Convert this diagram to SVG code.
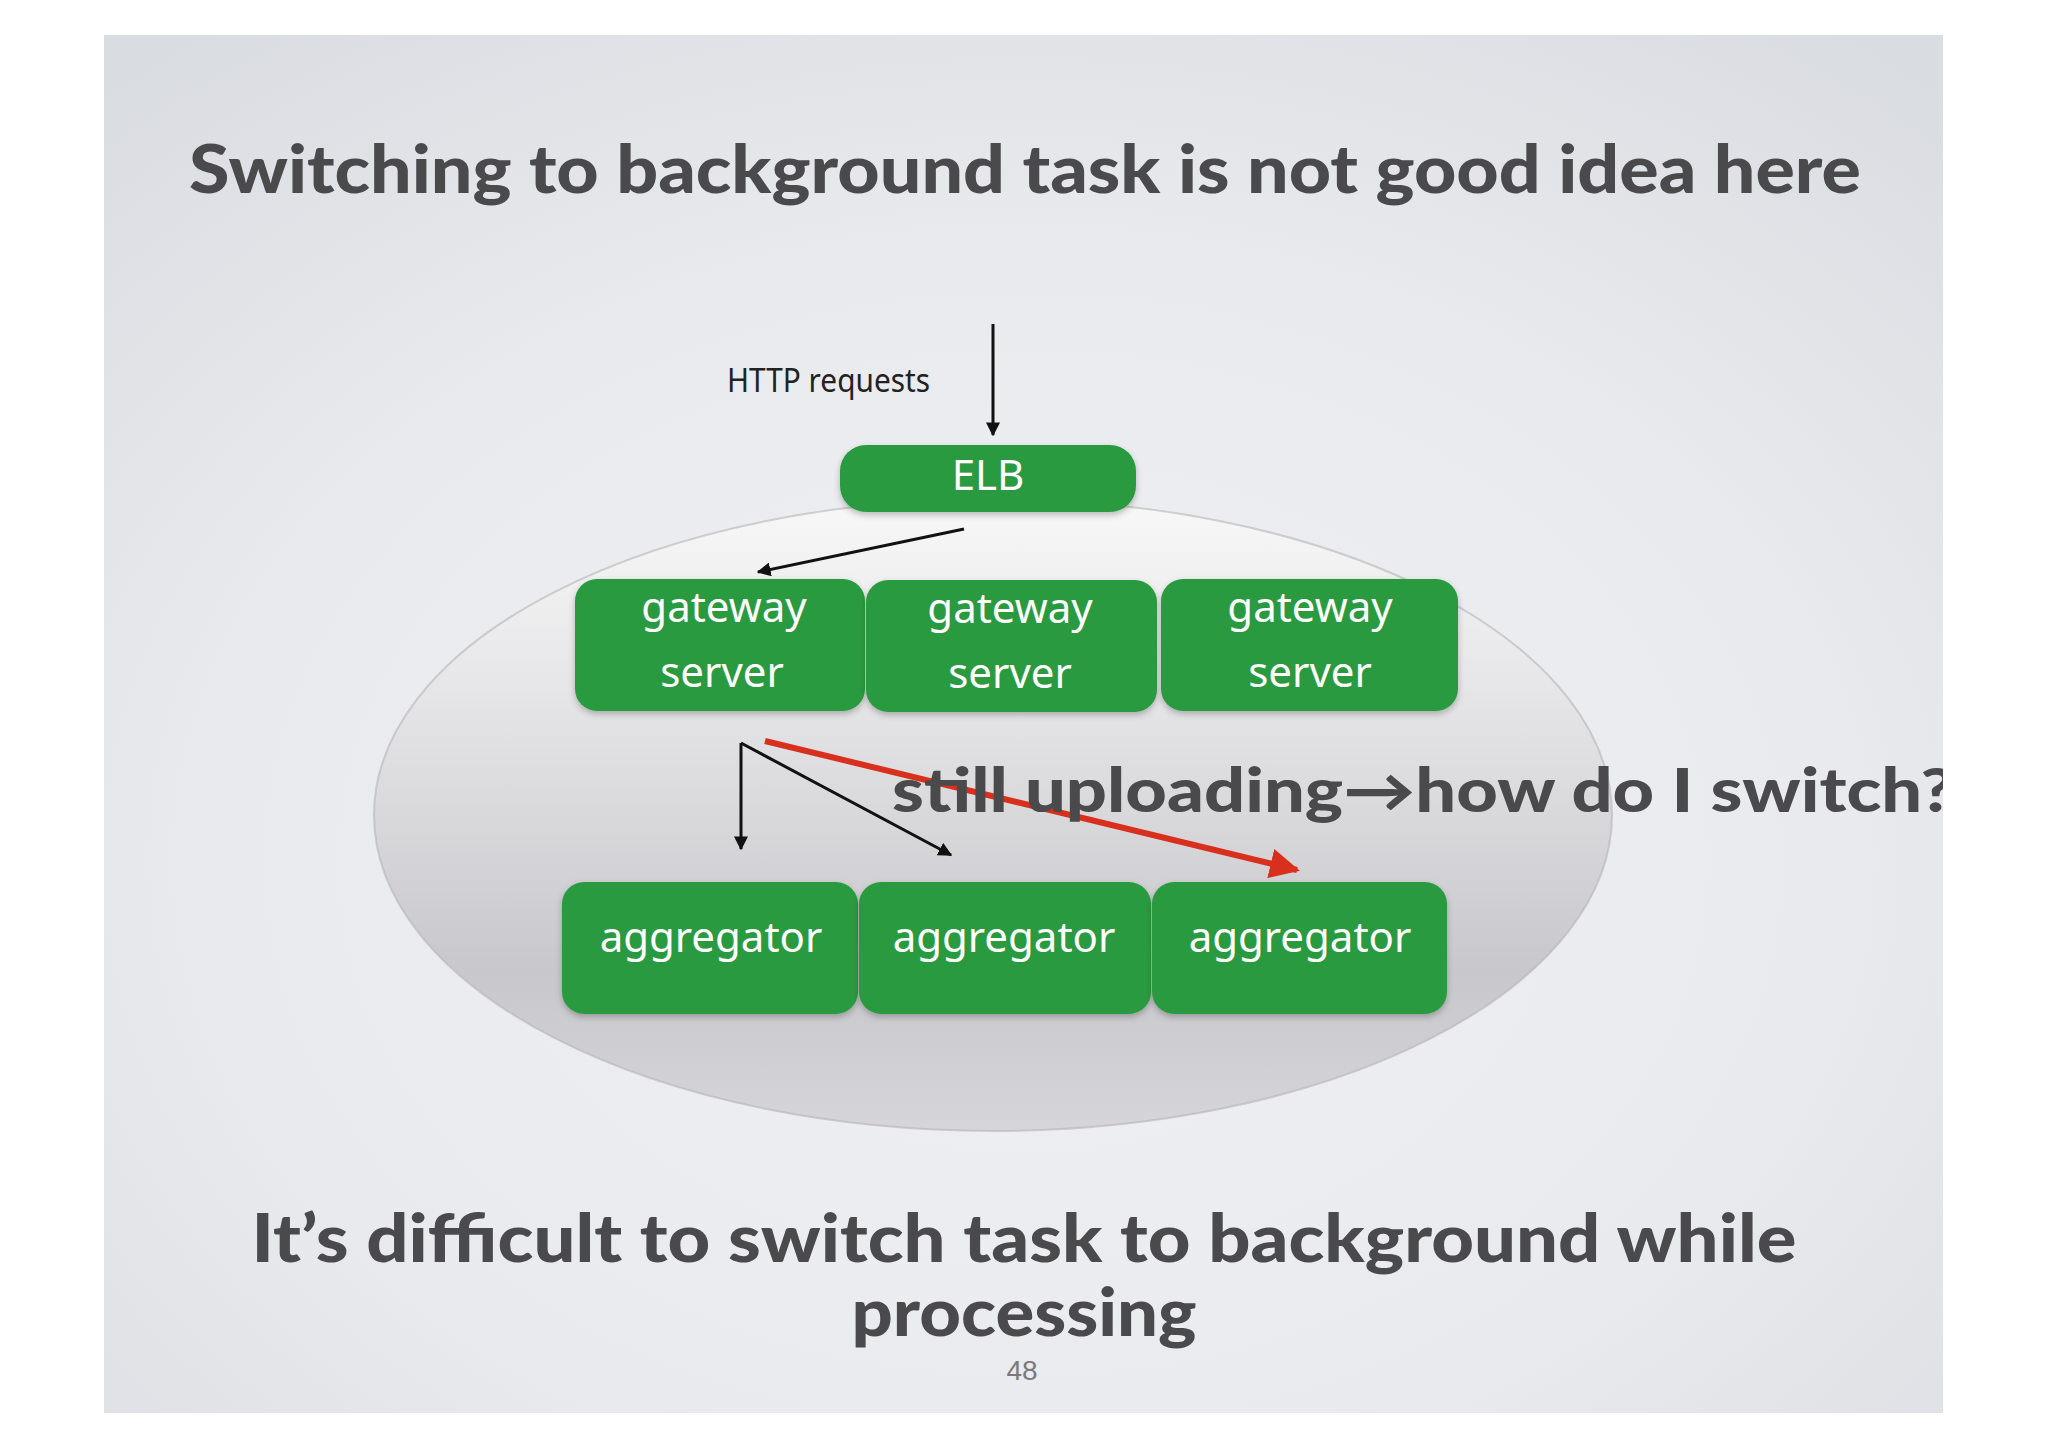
<svg xmlns="http://www.w3.org/2000/svg" width="2048" height="1448" viewBox="0 0 2048 1448">
<defs>
<radialGradient id="bg" cx="0.5" cy="0.6" r="0.75">
<stop offset="0" stop-color="#f0f1f3"/>
<stop offset="0.6" stop-color="#e8eaed"/>
<stop offset="1" stop-color="#d9dce1"/>
</radialGradient>
<linearGradient id="ell" x1="0" y1="0" x2="0" y2="1">
<stop offset="0" stop-color="#f8f8f8"/>
<stop offset="0.3" stop-color="#e6e6e8"/>
<stop offset="0.75" stop-color="#c8c8cc"/>
<stop offset="1" stop-color="#d6d6da"/>
</linearGradient>
<clipPath id="slide"><rect x="104" y="35" width="1839" height="1378"/></clipPath>
<filter id="sh" x="-10%" y="-10%" width="120%" height="130%">
<feDropShadow dx="0" dy="3" stdDeviation="3" flood-color="#000" flood-opacity="0.25"/>
</filter>
<marker id="ahk" viewBox="0 0 10 10" refX="9" refY="5" markerWidth="14" markerHeight="14" orient="auto" markerUnits="userSpaceOnUse">
<path d="M0,0 L10,5 L0,10 z" fill="#111"/>
</marker>
<marker id="ahr" viewBox="0 0 10 10" refX="9" refY="5" markerWidth="30" markerHeight="30" orient="auto" markerUnits="userSpaceOnUse">
<path d="M0,0 L10,5 L0,10 z" fill="#d8301c"/>
</marker>
</defs>
<style>
.box{fill:#2c9a40;filter:url(#sh)}
.lbl{font-family:"Noto Sans","Open Sans",sans-serif;fill:#ffffff;text-anchor:middle;font-size:42px}
.head{font-family:Lato,"Liberation Sans",sans-serif;font-weight:900;fill:#4a4a4c;text-anchor:middle}
.conn{stroke:#111;stroke-width:3;fill:none}
</style>
<rect width="2048" height="1448" fill="#ffffff"/>
<rect x="104" y="35" width="1839" height="1378" fill="url(#bg)"/>
<g clip-path="url(#slide)">
<ellipse id="cluster" cx="993" cy="815" rx="619" ry="316" fill="url(#ell)" stroke="#b4b4b8" stroke-opacity="0.6" stroke-width="2"/>

<text class="head" x="1025" y="193" font-size="66" textLength="1672" lengthAdjust="spacingAndGlyphs">Switching to background task is not good idea here</text>

<text x="727" y="392" font-family="'Noto Sans','Open Sans',sans-serif" font-size="32" fill="#222" textLength="203" lengthAdjust="spacingAndGlyphs">HTTP requests</text>

<g id="elb">
<rect class="box" x="840" y="445" width="296" height="67" rx="26"/>
<text class="lbl" x="988" y="490" font-size="44">ELB</text>
</g>

<g id="gateway1">
<rect class="box" x="575" y="579" width="290" height="132" rx="22"/>
<text class="lbl" x="724" y="622">gateway</text>
<text class="lbl" x="722" y="687">server</text>
</g>
<g id="gateway2">
<rect class="box" x="866" y="580" width="291" height="132" rx="22"/>
<text class="lbl" x="1010" y="623">gateway</text>
<text class="lbl" x="1010" y="688">server</text>
</g>
<g id="gateway3">
<rect class="box" x="1161" y="579" width="297" height="132" rx="22"/>
<text class="lbl" x="1310" y="622">gateway</text>
<text class="lbl" x="1310" y="687">server</text>
</g>

<g id="aggregator1">
<rect class="box" x="562" y="882" width="296" height="132" rx="22"/>
<text class="lbl" x="711" y="952">aggregator</text>
</g>
<g id="aggregator2">
<rect class="box" x="859" y="882" width="292" height="132" rx="22"/>
<text class="lbl" x="1004" y="952">aggregator</text>
</g>
<g id="aggregator3">
<rect class="box" x="1152" y="882" width="295" height="132" rx="22"/>
<text class="lbl" x="1300" y="952">aggregator</text>
</g>

<g id="connectors">
<line class="conn" x1="993" y1="324" x2="993" y2="435" marker-end="url(#ahk)"/>
<line class="conn" x1="964" y1="529" x2="758" y2="572" marker-end="url(#ahk)"/>
<line class="conn" x1="741" y1="743" x2="741" y2="849" marker-end="url(#ahk)"/>
<line class="conn" x1="741" y1="743" x2="951" y2="855" marker-end="url(#ahk)"/>
<line x1="765" y1="741" x2="1297" y2="870" stroke="#d8301c" stroke-width="6" marker-end="url(#ahr)"/>
</g>

<text class="head" x="892" y="812" font-size="60" style="text-anchor:start" textLength="1062" lengthAdjust="spacingAndGlyphs">still uploading→how do I switch?</text>

<text class="head" x="1024" y="1262" font-size="66" textLength="1545" lengthAdjust="spacingAndGlyphs">It’s difficult to switch task to background while</text>
<text class="head" x="1024" y="1336" font-size="66" textLength="345" lengthAdjust="spacingAndGlyphs">processing</text>
<text x="1022" y="1380" font-family="'Liberation Sans',sans-serif" font-size="28" fill="#7a7a7a" text-anchor="middle">48</text>
</g>
</svg>
